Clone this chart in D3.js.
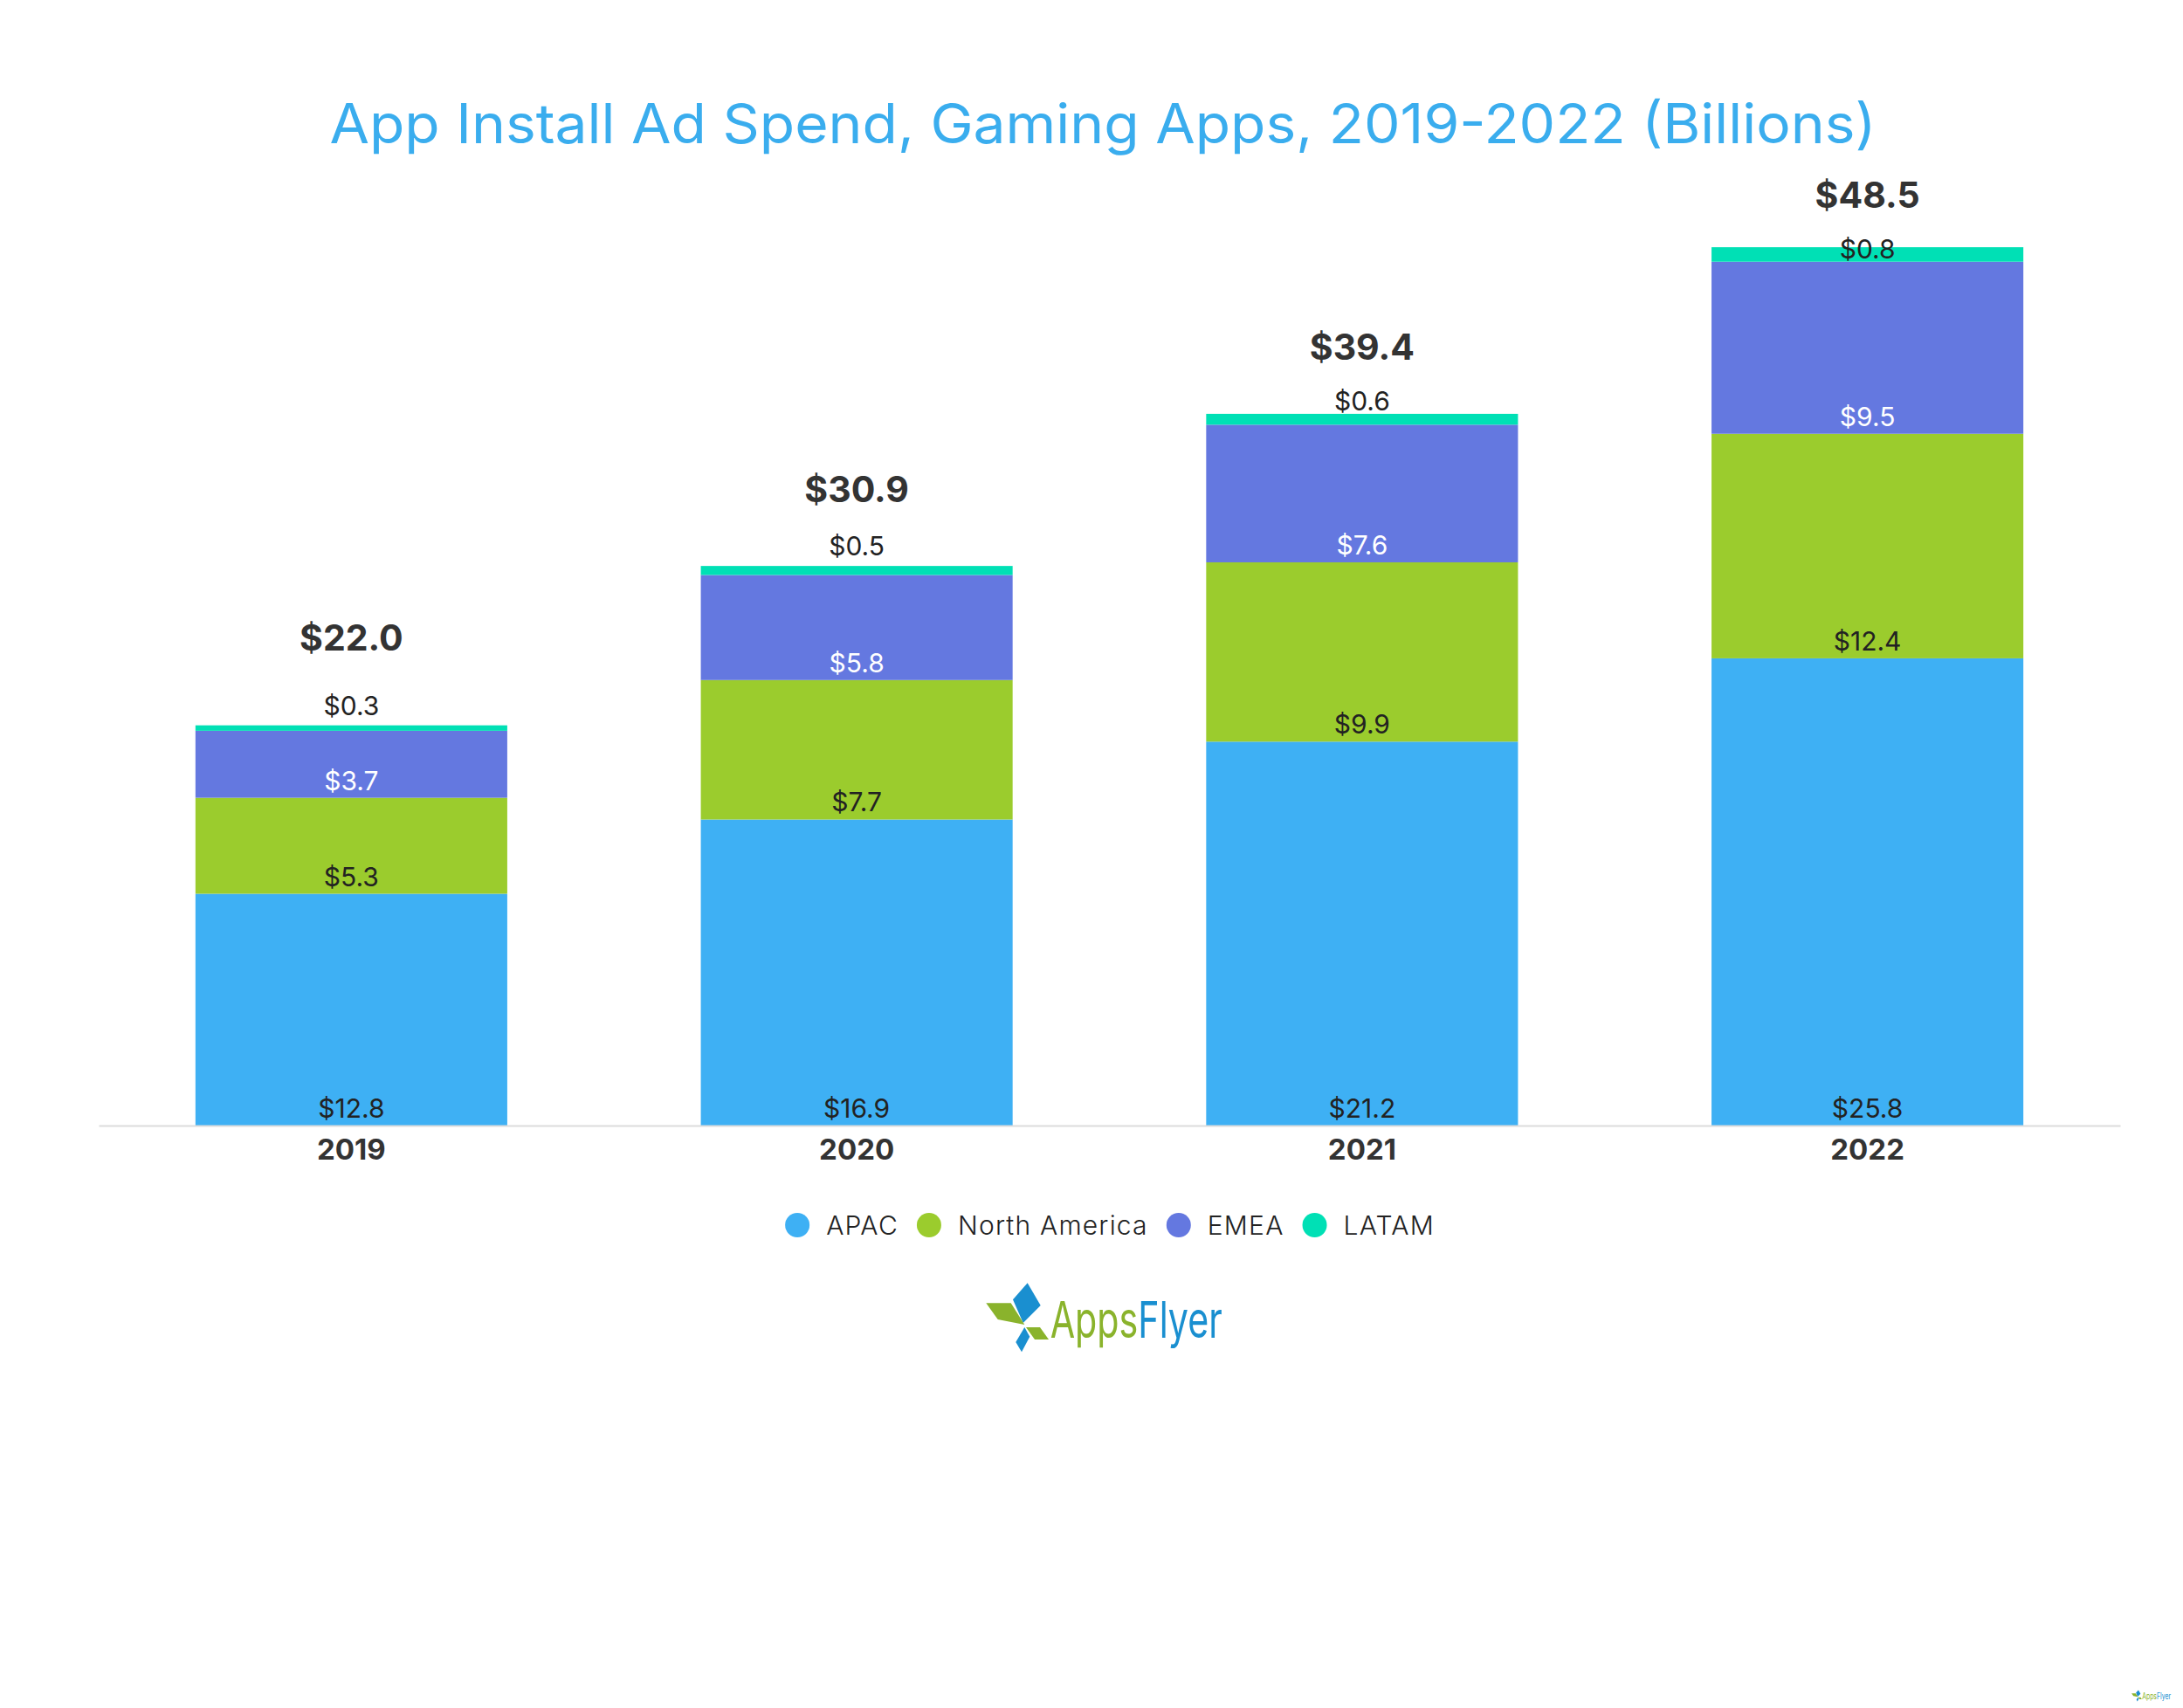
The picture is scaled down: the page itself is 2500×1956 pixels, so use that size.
<!DOCTYPE html>
<html>
<head>
<meta charset="utf-8">
<script src="https://cdn.jsdelivr.net/npm/d3@7"></script>
<style>
  html, body { margin: 0; padding: 0; background: #ffffff; }
  svg { display: block; }
</style>
</head>
<body>
<script>
// ---------------- DATA ----------------
const years = ["2019", "2020", "2021", "2022"];
const apac = [12.8, 16.9, 21.2, 25.8];
const northAmerica = [5.3, 7.7, 9.9, 12.4];
const emea = [3.7, 5.8, 7.6, 9.5];
const latam = [0.3, 0.5, 0.6, 0.8];
const totals = [22.0, 30.9, 39.4, 48.5];
const seriesNames = ["APAC", "North America", "EMEA", "LATAM"];
const titleText = "App Install Ad Spend, Gaming Apps, 2019-2022 (Billions)";

// ---------------- STYLE ----------------
const W = 2500, H = 1956;
const FONT = "Inter, 'Open Sans', 'DejaVu Sans', sans-serif";
const colors = ["#3eb0f4", "#9bcc2d", "#6478e0", "#00e0b5"];
const labelColors = ["#222222", "#222222", "#ffffff", "#222222"];

const svg = d3.select("body").append("svg")
  .attr("width", W).attr("height", H)
  .attr("viewBox", `0 0 ${W} ${H}`);

svg.append("rect").attr("width", W).attr("height", H).attr("fill", "#ffffff");

// Title
svg.append("text")
  .attr("x", 1263).attr("y", 164)
  .attr("text-anchor", "middle")
  .attr("font-family", FONT)
  .attr("font-size", 63)
  .attr("font-weight", 400)
  .attr("fill", "#3aadee")
  .attr("textLength", 1771)
  .attr("lengthAdjust", "spacingAndGlyphs")
  .text(titleText);

// Scales
const x = d3.scaleBand().domain(years).range([113, 2428])
  .paddingInner(0.383).paddingOuter(0.1915);
const y = d3.scaleLinear().domain([0, 50]).range([1289, 252]);
const yTotal = d3.scaleLinear().domain([0, 50]).range([1166.5, 209.5]);

// Stack
const table = years.map((yr, i) => ({
  year: yr, APAC: apac[i], "North America": northAmerica[i], EMEA: emea[i], LATAM: latam[i]
}));
const stacked = d3.stack().keys(seriesNames)(table);
const seriesValues = [apac, northAmerica, emea, latam];

const gBars = svg.append("g");
stacked.forEach((layer, si) => {
  gBars.append("g").attr("fill", colors[si])
    .selectAll("rect").data(layer).join("rect")
    .attr("x", d => x(d.data.year))
    .attr("width", x.bandwidth())
    .attr("y", d => y(d[1]))
    .attr("height", d => y(d[0]) - y(d[1]));
});

// Axis
const axis = svg.append("g")
  .attr("transform", `translate(0,${y(0)})`)
  .call(d3.axisBottom(x).tickSize(0).tickSizeOuter(0));
axis.select(".domain").attr("stroke", "#dcdcdc").attr("stroke-width", 2);
axis.selectAll(".tick text")
  .attr("y", 39).attr("dy", 0)
  .attr("font-family", FONT)
  .attr("font-size", 33)
  .attr("font-weight", 700)
  .attr("fill", "#333333");

// Segment labels (APAC, NA, EMEA at segment base)
const gLabels = svg.append("g")
  .attr("font-family", FONT).attr("font-size", 30).attr("text-anchor", "middle");
stacked.forEach((layer, si) => {
  if (si === 3) return;
  gLabels.append("g").attr("fill", labelColors[si])
    .selectAll("text").data(layer).join("text")
    .attr("x", d => x(d.data.year) + x.bandwidth() / 2)
    .attr("y", d => y(d[0]) - 9)
    .text((d, i) => "$" + d3.format(".1f")(seriesValues[si][i]));
});
// LATAM labels above bar top, kept clear of the total labels
gLabels.append("g").attr("fill", labelColors[3])
  .selectAll("text").data(stacked[3]).join("text")
  .attr("x", d => x(d.data.year) + x.bandwidth() / 2)
  .attr("y", (d, i) => Math.max(y(d[1]) - 12, yTotal(totals[i]) + 58))
  .text((d, i) => "$" + d3.format(".1f")(latam[i]));

// Total labels
svg.append("g")
  .selectAll("text").data(totals).join("text")
  .attr("x", (d, i) => x(years[i]) + x.bandwidth() / 2)
  .attr("y", d => yTotal(d))
  .attr("text-anchor", "middle")
  .attr("font-family", FONT)
  .attr("font-size", 41)
  .attr("font-weight", 700)
  .attr("fill", "#333333")
  .text(d => "$" + d3.format(".1f")(d));

// Legend
const legend = svg.append("g").attr("font-family", FONT).attr("font-size", 30)
  .attr("font-weight", 300).attr("letter-spacing", 1.2);
const items = legend.selectAll("g").data(seriesNames).join("g");
items.append("circle").attr("r", 14).attr("cy", 0).attr("fill", (d, i) => colors[i]);
items.append("text").attr("x", 33).attr("y", 10.5).attr("fill", "#222222").text(d => d);
let cx = 0;
const offsets = [];
items.each(function (d, i) {
  const tw = d3.select(this).select("text").node().getComputedTextLength();
  offsets.push(cx);
  cx += 33 + tw + 35;
});
const legendWidth = cx - 35 + 14;
const legendStart = 1271 - legendWidth / 2 + 14;
items.attr("transform", (d, i) => `translate(${legendStart + offsets[i]},1403)`);

// AppsFlyer logo
function drawLogo(g) {
  const shapes = [
    { pts: [[31, 21.3], [47.7, 2.3], [62.7, 28], [42.7, 48]], c: "#1a8fd0" },
    { pts: [[0.3, 25.3], [28.7, 25.3], [44.3, 50], [13.7, 44]], c: "#8ab32c" },
    { pts: [[46, 53], [62, 53], [72, 67], [56, 67]], c: "#8ab32c" },
    { pts: [[44.3, 53], [50.3, 63.7], [41, 81.3], [34.3, 70]], c: "#1a8fd0" }
  ];
  g.selectAll("path").data(shapes).join("path")
    .attr("d", s => "M" + s.pts.map(p => p.join(",")).join("L") + "Z")
    .attr("fill", s => s.c);
  const tg = g.append("g");
  const t = tg.append("text")
    .attr("x", 0).attr("y", 0)
    .attr("font-family", FONT).attr("font-size", 58).attr("font-weight", 400);
  t.append("tspan").attr("fill", "#8ab32c").text("Apps");
  t.append("tspan").attr("fill", "#1a8fd0").text("Flyer");
  const natural = t.node().getComputedTextLength();
  tg.attr("transform", `translate(73.7,64.7) scale(${197 / natural},1)`);
}
drawLogo(svg.append("g").attr("transform", "translate(1129,1467)"));
drawLogo(svg.append("g").attr("transform", "translate(2441,1935) scale(0.166)"));
</script>
</body>
</html>
